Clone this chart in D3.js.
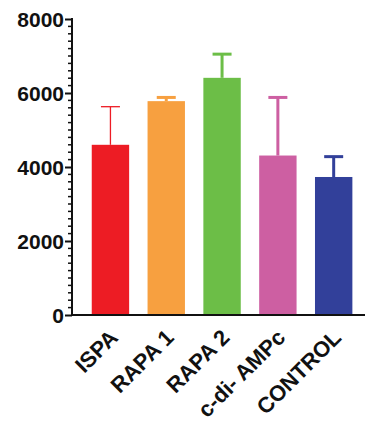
<!DOCTYPE html>
<html><head><meta charset="utf-8">
<script src="https://cdn.jsdelivr.net/npm/d3@7"></script>
<style>body{margin:0;background:#fff}svg{display:block}</style>
</head><body>
<script>
const categories = ["ISPA", "RAPA 1", "RAPA 2", "c-di- AMPc", "CONTROL"];
const means = [4600, 5780, 6410, 4310, 3730];
const upperErrors = [5630, 5880, 7050, 5880, 4280];
const colors = ["#ED1C24", "#F7A040", "#6CBE47", "#CD5FA2", "#32409A"];
const errWidths = [1.3, 3, 3, 3, 3];
const yTicks = [0, 2000, 4000, 6000, 8000];

const W = 365, H = 423;
const svg = d3.select("body").append("svg").attr("width", W).attr("height", H);
const font = "'Liberation Sans', Arial, Helvetica, sans-serif";

const y = d3.scaleLinear().domain([0, 8000]).range([315, 19]);
const x = d3.scaleBand().domain(categories).range([72, 365]).paddingInner(0.33).paddingOuter(0.29).align(0.61);

// bars
svg.selectAll("rect.bar").data(categories).enter().append("rect")
  .attr("x", d => x(d)).attr("width", x.bandwidth())
  .attr("y", (d, i) => y(means[i])).attr("height", (d, i) => y(0) - y(means[i]))
  .attr("fill", (d, i) => colors[i]);

// error bars
const capW = 19;
categories.forEach((c, i) => {
  const cx = x(c) + x.bandwidth() / 2;
  const g = svg.append("g").attr("stroke", colors[i]).attr("stroke-width", errWidths[i]);
  g.append("line").attr("x1", cx).attr("x2", cx).attr("y1", y(means[i])).attr("y2", y(upperErrors[i]));
  g.append("line").attr("x1", cx - capW / 2).attr("x2", cx + capW / 2)
    .attr("y1", y(upperErrors[i])).attr("y2", y(upperErrors[i]));
});

// y axis
const yAxis = d3.axisLeft(y).tickValues(yTicks).tickSize(7).tickPadding(1).tickFormat(d3.format("d"));
const gy = svg.append("g").attr("transform", "translate(72,0)").call(yAxis);
gy.select(".domain").attr("stroke", "#111").attr("stroke-width", 2).attr("d", "M0,18V316");
gy.selectAll(".tick line").attr("stroke", "#111").attr("stroke-width", 2);
gy.selectAll(".tick text").attr("font-family", font).attr("font-weight", "bold")
  .attr("font-size", 21).attr("fill", "#111").attr("dy", "0.36em");
// minor ticks
const minor = d3.range(200, 8000, 200).filter(v => v % 2000 !== 0);
gy.selectAll("line.minor").data(minor).enter().append("line")
  .attr("class", "minor").attr("x1", -4).attr("x2", 0)
  .attr("y1", d => y(d)).attr("y2", d => y(d))
  .attr("stroke", "#111").attr("stroke-width", 1.5);

// x axis baseline
svg.append("line").attr("x1", 71).attr("x2", 365).attr("y1", 315).attr("y2", 315)
  .attr("stroke", "#111").attr("stroke-width", 2);

// x labels
svg.selectAll("text.xl").data(categories).enter().append("text")
  .attr("class", "xl")
  .attr("transform", d => `translate(${x(d) + x.bandwidth() / 2 - 2},${328}) rotate(-45)`)
  .attr("text-anchor", "end")
  .attr("font-family", font).attr("font-weight", "bold").attr("font-size", 22)
  .attr("fill", "#111").attr("dy", "0.7em")
  .text(d => d);
</script>
</body></html>
